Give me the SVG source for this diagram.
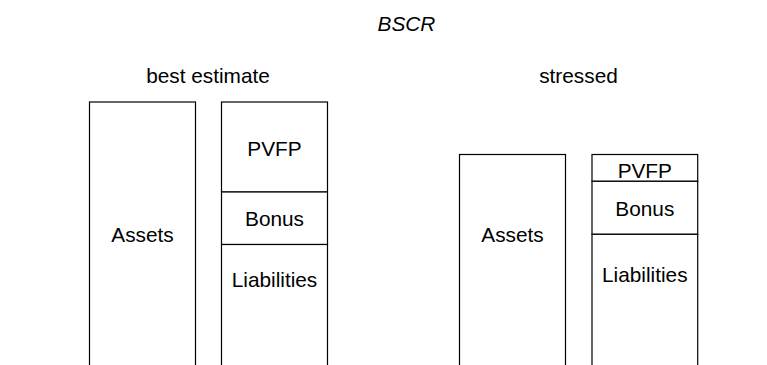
<svg xmlns="http://www.w3.org/2000/svg" width="767" height="365" viewBox="0 0 767 365">
<style>
.box{fill:#fff;stroke:#000;stroke-width:1.2}
.t{font-family:"Liberation Sans",Arial,sans-serif;font-size:20.8px;fill:#000;text-anchor:middle}
.i{font-style:italic}
</style>
<rect width="767" height="365" fill="#fff"/>
<text class="t i" x="406.5" y="31.3">BSCR</text>
<text class="t" x="208" y="82.8">best estimate</text>
<text class="t" x="578.5" y="82.8">stressed</text>
<g id="be-assets">
<rect class="box" x="89.5" y="102" width="106" height="290"/>
<text class="t" x="142.5" y="242.3">Assets</text>
</g>
<g id="be-pvfp">
<rect class="box" x="221.5" y="102" width="106" height="90"/>
<text class="t" x="274.5" y="156.3">PVFP</text>
</g>
<g id="be-bonus">
<rect class="box" x="221.5" y="192" width="106" height="52.5"/>
<text class="t" x="274.5" y="226">Bonus</text>
</g>
<g id="be-liabilities">
<rect class="box" x="221.5" y="244.5" width="106" height="150"/>
<text class="t" x="274.5" y="286.7">Liabilities</text>
</g>
<g id="st-assets">
<rect class="box" x="459.5" y="154.5" width="106" height="240"/>
<text class="t" x="512.5" y="241.7">Assets</text>
</g>
<g id="st-pvfp">
<rect class="box" x="592" y="154.5" width="105.7" height="26.8"/>
<text class="t" x="644.8" y="177.7">PVFP</text>
</g>
<g id="st-bonus">
<rect class="box" x="592" y="181.3" width="105.7" height="53"/>
<text class="t" x="644.8" y="216">Bonus</text>
</g>
<g id="st-liabilities">
<rect class="box" x="592" y="234.3" width="105.7" height="160"/>
<text class="t" x="644.8" y="282.3">Liabilities</text>
</g>
<g id="connectors"></g>
</svg>
